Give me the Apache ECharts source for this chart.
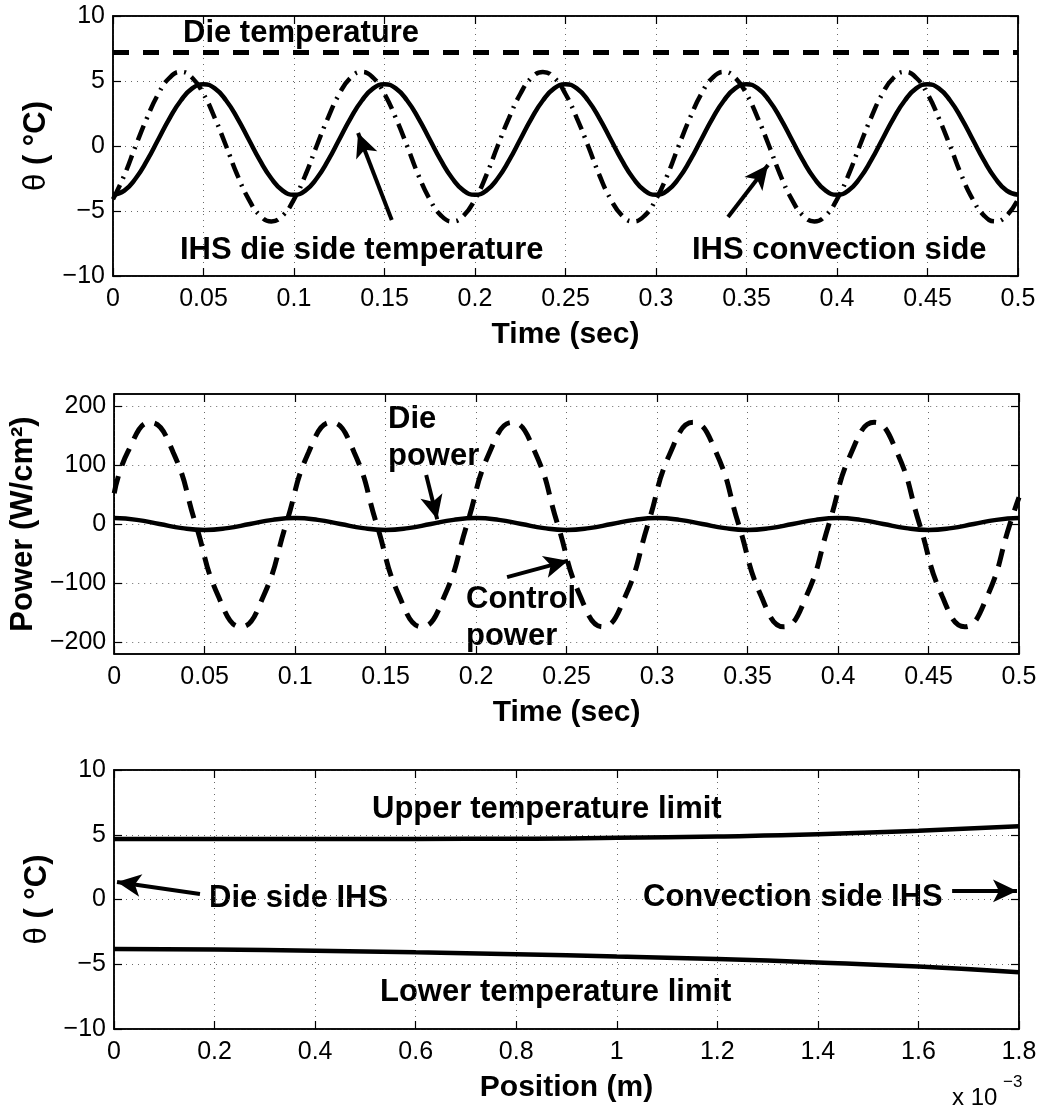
<!DOCTYPE html>
<html>
<head>
<meta charset="utf-8">
<title>IHS temperature and power</title>
<script src="https://cdn.jsdelivr.net/npm/echarts@6/dist/echarts.min.js"></script>
<style>
  html, body { margin: 0; padding: 0; background: #fff; }
  #chart { width: 1050px; height: 1113px; }
</style>
</head>
<body>
<div id="chart"></div>
<script>
// ---- data ----
// top panel: time (s) and temperatures (deg C)
var tTop = [
  0, 0.00625, 0.0125, 0.01875, 0.025, 0.03125, 0.0375, 0.04375, 0.05, 0.05625, 0.0625, 0.06875, 0.075, 0.08125, 0.0875, 0.09375,
  0.1, 0.10625, 0.1125, 0.11875, 0.125, 0.13125, 0.1375, 0.14375, 0.15, 0.15625, 0.1625, 0.16875, 0.175, 0.18125, 0.1875, 0.19375,
  0.2, 0.20625, 0.2125, 0.21875, 0.225, 0.23125, 0.2375, 0.24375, 0.25, 0.25625, 0.2625, 0.26875, 0.275, 0.28125, 0.2875, 0.29375,
  0.3, 0.30625, 0.3125, 0.31875, 0.325, 0.33125, 0.3375, 0.34375, 0.35, 0.35625, 0.3625, 0.36875, 0.375, 0.38125, 0.3875, 0.39375,
  0.4, 0.40625, 0.4125, 0.41875, 0.425, 0.43125, 0.4375, 0.44375, 0.45, 0.45625, 0.4625, 0.46875, 0.475, 0.48125, 0.4875, 0.49375,
  0.5];
var dieSideTemp = [
  -3.75, -3.43, -2.5, -1.13, 0.5, 2.13, 3.5, 4.43, 4.75, 4.43, 3.5, 2.13, 0.5, -1.13, -2.5, -3.43,
  -3.75, -3.43, -2.5, -1.13, 0.5, 2.13, 3.5, 4.43, 4.75, 4.43, 3.5, 2.13, 0.5, -1.13, -2.5, -3.43,
  -3.75, -3.43, -2.5, -1.13, 0.5, 2.13, 3.5, 4.43, 4.75, 4.43, 3.5, 2.13, 0.5, -1.13, -2.5, -3.43,
  -3.75, -3.43, -2.5, -1.13, 0.5, 2.13, 3.5, 4.43, 4.75, 4.43, 3.5, 2.13, 0.5, -1.13, -2.5, -3.43,
  -3.75, -3.43, -2.5, -1.13, 0.5, 2.13, 3.5, 4.43, 4.75, 4.43, 3.5, 2.13, 0.5, -1.13, -2.5, -3.43,
  -3.75];
var convSideTemp = [
  -4.1, -2.25, 0, 2.15, 4.0, 5.25, 5.7, 5.25, 4.0, 2.15, 0, -2.25, -4.1, -5.35, -5.8, -5.35,
  -4.1, -2.25, 0, 2.15, 4.0, 5.25, 5.7, 5.25, 4.0, 2.15, 0, -2.25, -4.1, -5.35, -5.8, -5.35,
  -4.1, -2.25, 0, 2.15, 4.0, 5.25, 5.7, 5.25, 4.0, 2.15, 0, -2.25, -4.1, -5.35, -5.8, -5.35,
  -4.1, -2.25, 0, 2.15, 4.0, 5.25, 5.7, 5.25, 4.0, 2.15, 0, -2.25, -4.1, -5.35, -5.8, -5.35,
  -4.1, -2.25, 0, 2.15, 4.0, 5.25, 5.7, 5.25, 4.0, 2.15, 0, -2.25, -4.1, -5.35, -5.8, -5.35,
  -4.1];
var tDie = [0, 0.5];
var dieTemp = [7.2, 7.2];

// middle panel: power (W/cm^2)
var tPow = [0, 0.0125, 0.025, 0.0375, 0.05, 0.0625, 0.075, 0.0875, 0.1, 0.1125, 0.125, 0.1375, 0.15, 0.1625,
  0.175, 0.1875, 0.2, 0.2125, 0.225, 0.2375, 0.25, 0.2625, 0.275, 0.2875, 0.3, 0.3125, 0.325, 0.3375, 0.35,
  0.3625, 0.375, 0.3875, 0.4, 0.4125, 0.425, 0.4375, 0.45, 0.4625, 0.475, 0.4875, 0.5];
var diePower = [10, 7, 0, -7, -10, -7, 0, 7,
  10, 7, 0, -7, -10, -7, 0, 7,
  10, 7, 0, -7, -10, -7, 0, 7,
  10, 7, 0, -7, -10, -7, 0, 7,
  10, 7, 0, -7, -10, -7, 0, 7, 10];
var tCtrl = [0, 0.0075, 0.02, 0.0325, 0.045, 0.0575, 0.07, 0.0825, 0.095, 0.1075, 0.12, 0.1325, 0.145,
  0.1575, 0.17, 0.1825, 0.195, 0.2075, 0.22, 0.2325, 0.245, 0.2575, 0.27, 0.2825, 0.295, 0.3075, 0.32,
  0.3325, 0.345, 0.3575, 0.37, 0.3825, 0.395, 0.4075, 0.42, 0.4325, 0.445, 0.4575, 0.47, 0.4825, 0.495, 0.5];
var controlPower = [52,
  122, 172, 122, 0, -122, -174, -122, 0,
  122, 172, 122, 0, -122, -174, -122, 0,
  122, 172, 122, 0, -122, -174, -122, 0,
  122, 172, 122, 0, -122, -174, -122, 0,
  122, 172, 122, 0, -122, -174, -122, 0, 45];
var powerTicks = [-200, -100, 0, 100, 200];

// bottom panel: position (x 1e-3 m) and temperature limits
var position = [0, 0.2, 0.4, 0.6, 0.8, 1.0, 1.2, 1.4, 1.6, 1.8];
var upperLimit = [4.67, 4.67, 4.67, 4.68, 4.69, 4.76, 4.87, 5.03, 5.3, 5.66];
var lowerLimit = [-3.82, -3.87, -3.95, -4.08, -4.22, -4.4, -4.6, -4.86, -5.18, -5.62];

// annotation arrows, in data coordinates [from, tip]
var arrowDieSide = [[0.154, -5.69], [0.1354, 1.0]];
var arrowConvSide = [[0.3398, -5.46], [0.3619, -1.46]];
var arrowDiePower = [[0.1724, 83], [0.1785, 8]];
var arrowCtrlPower = [[0.2171, -90], [0.2508, -62]];
var arrowDieIHS = [[0.171, 0.42], [0.006, 1.35]];
var arrowConvIHS = [[1.667, 0.66], [1.796, 0.66]];

var FONT = '"Liberation Sans", Arial, Helvetica, sans-serif';

function pairs(xs, ys) {
    return xs.map(function (x, i) { return [x, ys[i]]; });
}

function minusSign(v) {
    return String(v).replace('-', '\u2212');
}

function axisBase(grid, pos) {
    return {
        type: 'value',
        gridIndex: grid,
        position: pos,
        axisLine: { show: true, onZero: false, lineStyle: { color: '#000', width: 1.5 } },
        axisTick: { show: true, inside: true, length: 8, lineStyle: { color: '#000', width: 1.2 } },
        axisLabel: { show: false },
        splitLine: { show: false }
    };
}

function mainAxis(grid, pos, min, max, interval) {
    var a = axisBase(grid, pos);
    a.min = min;
    a.max = max;
    if (interval) a.interval = interval;
    a.axisLabel = {
        show: true, margin: pos === 'bottom' ? 11 : 8, fontFamily: FONT, fontSize: 25, color: '#000',
        formatter: minusSign, showMinLabel: true, showMaxLabel: true
    };
    a.splitLine = { show: true, lineStyle: { color: '#6a6a6a', width: 1, type: [1, 5] } };
    a.nameLocation = 'middle';
    a.nameTextStyle = { fontFamily: FONT, fontWeight: 'bold', fontSize: 30, color: '#000' };
    return a;
}

function mirrorAxis(grid, pos, min, max, interval) {
    var a = axisBase(grid, pos);
    a.min = min;
    a.max = max;
    if (interval) a.interval = interval;
    return a;
}

function arrows(list) {
    return {
        silent: true,
        animation: false,
        symbol: ['none', 'arrow'],
        symbolSize: [17, 24],
        label: { show: false },
        emphasis: { disabled: true },
        lineStyle: { color: '#000', width: 4, type: 'solid' },
        data: list.map(function (a) { return [{ coord: a[0] }, { coord: a[1] }]; })
    };
}

function note(text, x, y, size, weight) {
    return {
        type: 'text', x: x, y: y, silent: true,
        style: {
            text: text, fill: '#000', fontFamily: FONT, fontSize: size || 31,
            fontWeight: weight || 'bold', align: 'left', verticalAlign: 'middle'
        }
    };
}

var thetaName = {
    name: '{t|\u03b8} ( \u00b0C)',
    rich: { t: { fontFamily: FONT, fontWeight: 'normal', fontSize: 31, color: '#000' } }
};

// x axes
var x0 = mainAxis(0, 'bottom', 0, 0.5, 0.05);
x0.name = 'Time (sec)';
x0.nameGap = 44;
var x2 = mainAxis(1, 'bottom', 0, 0.5, 0.05);
x2.name = 'Time (sec)';
x2.nameGap = 44;
var x4 = mainAxis(2, 'bottom', 0, 1.8, 0.2);
x4.name = 'Position (m)';
x4.nameGap = 44;

// y axes
var y0 = mainAxis(0, 'left', -10, 10, 5);
y0.name = thetaName.name;
y0.nameGap = 60;
y0.nameTextStyle.fontSize = 31;
y0.nameTextStyle.rich = thetaName.rich;
var y2 = mainAxis(1, 'left', -220, 220, null);
y2.axisTick.customValues = powerTicks;
y2.axisLabel.customValues = powerTicks;
y2.name = 'Power (W/cm\u00b2)';
y2.nameGap = 72;
y2.nameTextStyle.fontSize = 31;
var y4 = mainAxis(2, 'left', -10, 10, 5);
y4.name = thetaName.name;
y4.nameGap = 60;
y4.nameTextStyle.fontSize = 31;
y4.nameTextStyle.rich = thetaName.rich;
var y3 = mirrorAxis(1, 'right', -220, 220, null);
y3.axisTick.customValues = powerTicks;

var option = {
    backgroundColor: '#fff',
    animation: false,
    grid: [
        { left: 113, top: 16, width: 905, height: 260, show: true, borderColor: '#000', borderWidth: 1.5 },
        { left: 114, top: 394, width: 905, height: 260, show: true, borderColor: '#000', borderWidth: 1.5 },
        { left: 114, top: 770, width: 905, height: 259, show: true, borderColor: '#000', borderWidth: 1.5 }
    ],
    xAxis: [
        x0, mirrorAxis(0, 'top', 0, 0.5, 0.05),
        x2, mirrorAxis(1, 'top', 0, 0.5, 0.05),
        x4, mirrorAxis(2, 'top', 0, 1.8, 0.2)
    ],
    yAxis: [
        y0, mirrorAxis(0, 'right', -10, 10, 5),
        y2, y3,
        y4, mirrorAxis(2, 'right', -10, 10, 5)
    ],
    series: [
        {
            name: 'Die temperature', type: 'line', xAxisIndex: 0, yAxisIndex: 0,
            data: pairs(tDie, dieTemp), showSymbol: false,
            lineStyle: { color: '#000', width: 5, type: [16, 14], cap: 'butt' }
        },
        {
            name: 'IHS convection side', type: 'line', xAxisIndex: 0, yAxisIndex: 0,
            data: pairs(tTop, convSideTemp), showSymbol: false, smooth: true,
            lineStyle: { color: '#000', width: 4.5, type: [16, 7, 2, 7], cap: 'butt' }
        },
        {
            name: 'IHS die side temperature', type: 'line', xAxisIndex: 0, yAxisIndex: 0,
            data: pairs(tTop, dieSideTemp), showSymbol: false, smooth: true,
            lineStyle: { color: '#000', width: 4.5 },
            markLine: arrows([arrowDieSide, arrowConvSide])
        },
        {
            name: 'Control power', type: 'line', xAxisIndex: 2, yAxisIndex: 2,
            data: pairs(tCtrl, controlPower), showSymbol: false, smooth: true,
            lineStyle: { color: '#000', width: 5, type: [18, 11], cap: 'butt' }
        },
        {
            name: 'Die power', type: 'line', xAxisIndex: 2, yAxisIndex: 2,
            data: pairs(tPow, diePower), showSymbol: false, smooth: true,
            lineStyle: { color: '#000', width: 4.5 },
            markLine: arrows([arrowDiePower, arrowCtrlPower])
        },
        {
            name: 'Upper temperature limit', type: 'line', xAxisIndex: 4, yAxisIndex: 4,
            data: pairs(position, upperLimit), showSymbol: false, smooth: true,
            lineStyle: { color: '#000', width: 4.5 }
        },
        {
            name: 'Lower temperature limit', type: 'line', xAxisIndex: 4, yAxisIndex: 4,
            data: pairs(position, lowerLimit), showSymbol: false, smooth: true,
            lineStyle: { color: '#000', width: 4.5 },
            markLine: arrows([arrowDieIHS, arrowConvIHS])
        }
    ],
    graphic: [
        note('Die temperature', 183, 33),
        note('IHS die side temperature', 180, 250),
        note('IHS convection side', 692, 250),
        note('Die', 388, 419),
        note('power', 388, 456),
        note('Control', 466, 599),
        note('power', 466, 636),
        note('Upper temperature limit', 372, 809),
        note('Lower temperature limit', 380, 992),
        note('Die side IHS', 209, 898),
        note('Convection side IHS', 643, 897),
        note('x 10', 952, 1098, 24, 'normal'),
        note('\u22123', 1003, 1082, 17, 'normal')
    ]
};

var chart = echarts.init(document.getElementById('chart'), null, { renderer: 'canvas' });
chart.setOption(option);
</script>
</body>
</html>
